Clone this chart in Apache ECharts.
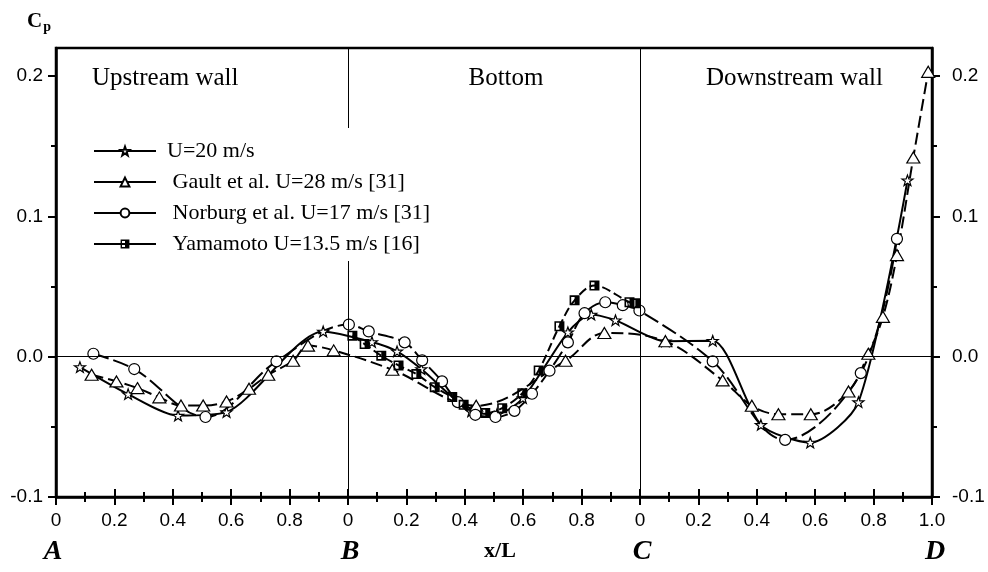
<!DOCTYPE html>
<html>
<head>
<meta charset="utf-8">
<script src="https://cdn.jsdelivr.net/npm/echarts@6/dist/echarts.min.js"></script>
<style>
  html, body { margin: 0; padding: 0; background: #fff; }
  #main { width: 988px; height: 572px; }
</style>
</head>
<body>
<div id="main"></div>
<script>
// x runs 0..3 : A-B upstream wall, B-C bottom, C-D downstream wall
var seriesNames = ['U=20 m/s', ' Gault et al. U=28 m/s [31]', ' Norburg et al. U=17 m/s [31]', ' Yamamoto U=13.5 m/s [16]'];

var starX = [0.082, 0.247, 0.418, 0.584, 0.915, 1.082, 1.168, 1.251, 1.422, 1.51, 1.599, 1.753, 1.833, 1.916, 2.087, 2.249, 2.414, 2.583, 2.748, 2.916];
var starY = [-0.0074, -0.0267, -0.042, -0.0395, 0.018, 0.0105, 0.0038, -0.0088, -0.039, -0.041, -0.0295, 0.0174, 0.030, 0.026, 0.011, 0.0114, -0.0486, -0.0612, -0.0324, 0.1257];

var gaultX = [0.122, 0.207, 0.279, 0.354, 0.428, 0.504, 0.584, 0.661, 0.727, 0.812, 0.863, 0.951, 1.152, 1.439, 1.745, 1.878, 2.087, 2.283, 2.383, 2.474, 2.585, 2.714, 2.782, 2.832, 2.880, 2.936, 2.987];
var gaultY = [-0.0129, -0.0176, -0.0224, -0.029, -0.0348, -0.0348, -0.0319, -0.0229, -0.0129, -0.0029, 0.0079, 0.0045, -0.0093, -0.035, -0.0029, 0.0169, 0.011, -0.0169, -0.035, -0.041, -0.041, -0.0248, 0.0021, 0.0284, 0.0724, 0.142, 0.203];

var norX = [0.128, 0.268, 0.512, 0.755, 1.003, 1.071, 1.194, 1.254, 1.322, 1.376, 1.436, 1.505, 1.570, 1.630, 1.690, 1.753, 1.810, 1.881, 1.941, 1.998, 2.249, 2.497, 2.756, 2.880];
var norY = [0.0021, -0.0088, -0.043, -0.0033, 0.0229, 0.018, 0.0102, -0.0026, -0.0176, -0.0324, -0.0414, -0.043, -0.0386, -0.0264, -0.010, 0.0102, 0.031, 0.0388, 0.0367, 0.0329, -0.0033, -0.0593, -0.0117, 0.084];

var yamX = [1.015, 1.057, 1.114, 1.173, 1.234, 1.297, 1.357, 1.396, 1.470, 1.528, 1.597, 1.653, 1.724, 1.776, 1.844, 1.964, 1.984];
var yamY = [0.015, 0.009, 0.0007, -0.0062, -0.0124, -0.0217, -0.0288, -0.0343, -0.0402, -0.0367, -0.026, -0.0098, 0.0217, 0.0402, 0.0507, 0.0388, 0.038];

var yTicks = [-0.1, 0, 0.1, 0.2];
var pointLetters = ['A', 'B', 'C', 'D'];
var wallLabels = ['Upstream wall', 'Bottom', 'Downstream wall'];

function pairs(xs, ys) {
  var out = [];
  for (var i = 0; i < xs.length; i++) out.push([xs[i], ys[i]]);
  return out;
}

var serif = '"Liberation Serif", "Times New Roman", serif';
var sans = '"Liberation Sans", Arial, sans-serif';

var starPath = 'path://M10,0 L12.35,6.76 L19.51,6.91 L13.8,11.24 L15.88,18.09 L10,14 L4.12,18.09 L6.2,11.24 L0.49,6.91 L7.65,6.76 Z';
var halfSquare = 'path://M0,0 L10,0 L10,10 L0,10 Z M1.6,1.6 L1.6,8.4 L5,8.4 L5,1.6 Z';

function xLabel(v) {
  var t = Math.round(v * 10);
  if (t === 30) return '1.0';
  var f = t % 10;
  return f === 0 ? '0' : '0.' + f;
}
function yLabel(v) {
  var t = Math.round(v * 100);
  if (t % 10 !== 0) return '';
  if (t === 0) return '0.0';
  return v.toFixed(1);
}

var chart = echarts.init(document.getElementById('main'));

var yAxisBase = {
  type: 'value', min: -0.1, max: 0.22, interval: 0.1,
  axisLine: { show: true, onZero: false, lineStyle: { color: '#000', width: 2.5 } },
  axisTick: { show: true, length: 8, customValues: yTicks, lineStyle: { color: '#000', width: 2 } },
  minorTick: { show: true, splitNumber: 2, length: 5, lineStyle: { color: '#000', width: 2 } },
  splitLine: { show: false },
  axisLabel: { formatter: yLabel, color: '#000', fontFamily: sans, fontSize: 19 }
};

var option = {
  animation: false,
  backgroundColor: '#fff',
  grid: { left: 56, right: 56, top: 48, bottom: 75, show: true, borderColor: '#000', borderWidth: 2.5 },
  xAxis: [{
    type: 'value', min: 0, max: 3, interval: 0.2, position: 'bottom',
    axisLine: { show: true, onZero: false, lineStyle: { color: '#000', width: 2.5 } },
    axisTick: { show: true, length: 8, lineStyle: { color: '#000', width: 2 } },
    minorTick: { show: true, splitNumber: 2, length: 5, lineStyle: { color: '#000', width: 2 } },
    splitLine: { show: false },
    axisLabel: { formatter: xLabel, color: '#000', fontFamily: sans, fontSize: 19, margin: 14 }
  }, {
    type: 'value', min: 0, max: 3, interval: 0.2, position: 'bottom',
    axisLine: { show: false, onZero: false },
    axisTick: { show: true, inside: true, length: 8, lineStyle: { color: '#000', width: 2 } },
    minorTick: { show: true, splitNumber: 2, length: 5, lineStyle: { color: '#000', width: 2 } },
    splitLine: { show: false },
    axisLabel: { show: false }
  }],
  yAxis: [
    Object.assign({}, yAxisBase, { position: 'left', axisLabel: Object.assign({}, yAxisBase.axisLabel, { margin: 13 }) }),
    Object.assign({}, yAxisBase, { position: 'right', axisLabel: Object.assign({}, yAxisBase.axisLabel, { margin: 20 }) })
  ],
  legend: {
    orient: 'vertical', left: 83, top: 128, z: 10,
    padding: [12, 10, 6, 10],
    backgroundColor: '#fff',
    itemWidth: 62, itemHeight: 11, itemGap: 9,
    data: seriesNames,
    lineStyle: { type: 'solid', width: 2 },
    textStyle: { fontFamily: serif, fontSize: 22, color: '#000', padding: [0, 0, 0, 6] }
  },
  graphic: [
    { type: 'text', x: 27, y: 10, style: { text: '{a|C}{b|p}', rich: {
      a: { font: 'bold 21px ' + serif, fill: '#000' },
      b: { font: 'bold 14px ' + serif, fill: '#000', padding: [10, 0, 0, 1] } } } },
    { type: 'text', x: 92, y: 78, style: { text: wallLabels[0], font: '25px ' + serif, fill: '#000', verticalAlign: 'middle', align: 'left' } },
    { type: 'text', x: 506, y: 78, style: { text: wallLabels[1], font: '25px ' + serif, fill: '#000', verticalAlign: 'middle', align: 'center' } },
    { type: 'text', x: 883, y: 78, style: { text: wallLabels[2], font: '25px ' + serif, fill: '#000', verticalAlign: 'middle', align: 'right' } },
    { type: 'text', x: 53, y: 552, style: { text: pointLetters[0], font: 'italic bold 28px ' + serif, fill: '#000', verticalAlign: 'middle', align: 'center' } },
    { type: 'text', x: 350, y: 552, style: { text: pointLetters[1], font: 'italic bold 28px ' + serif, fill: '#000', verticalAlign: 'middle', align: 'center' } },
    { type: 'text', x: 642, y: 552, style: { text: pointLetters[2], font: 'italic bold 28px ' + serif, fill: '#000', verticalAlign: 'middle', align: 'center' } },
    { type: 'text', x: 935, y: 552, style: { text: pointLetters[3], font: 'italic bold 28px ' + serif, fill: '#000', verticalAlign: 'middle', align: 'center' } },
    { type: 'text', x: 500, y: 551, style: { text: 'x/L', font: 'bold 22px ' + serif, fill: '#000', verticalAlign: 'middle', align: 'center' } }
  ],
  series: [{
    name: seriesNames[0], type: 'line', data: pairs(starX, starY), smooth: 0.25,
    symbol: starPath, symbolSize: 11, symbolKeepAspect: true, showAllSymbol: true,
    lineStyle: { color: '#000', width: 2, type: 'solid' },
    itemStyle: { color: '#fff', borderColor: '#000', borderWidth: 1.2 },
    markLine: {
      silent: true, symbol: ['none', 'none'], label: { show: false },
      lineStyle: { color: '#000', width: 1, type: 'solid' },
      data: [{ yAxis: 0 }, { xAxis: 1 }, { xAxis: 2 }]
    },
    z: 2
  }, {
    name: seriesNames[1], type: 'line', data: pairs(gaultX, gaultY), smooth: 0.35,
    symbol: 'triangle', symbolSize: [13, 11], showAllSymbol: true,
    lineStyle: { color: '#000', width: 2, type: [12, 5] },
    itemStyle: { color: '#fff', borderColor: '#000', borderWidth: 1.2 },
    z: 2
  }, {
    name: seriesNames[2], type: 'line', data: pairs(norX, norY), smooth: 0.35,
    symbol: 'circle', symbolSize: 11, showAllSymbol: true,
    lineStyle: { color: '#000', width: 2, type: [16, 5] },
    itemStyle: { color: '#fff', borderColor: '#000', borderWidth: 1.2 },
    z: 2
  }, {
    name: seriesNames[3], type: 'line', data: pairs(yamX, yamY), smooth: 0.35,
    symbol: halfSquare, symbolSize: 10, showAllSymbol: true,
    lineStyle: { color: '#000', width: 2, type: [9, 4] },
    itemStyle: { color: '#000' },
    z: 2
  }]
};

chart.setOption(option);
</script>
</body>
</html>
